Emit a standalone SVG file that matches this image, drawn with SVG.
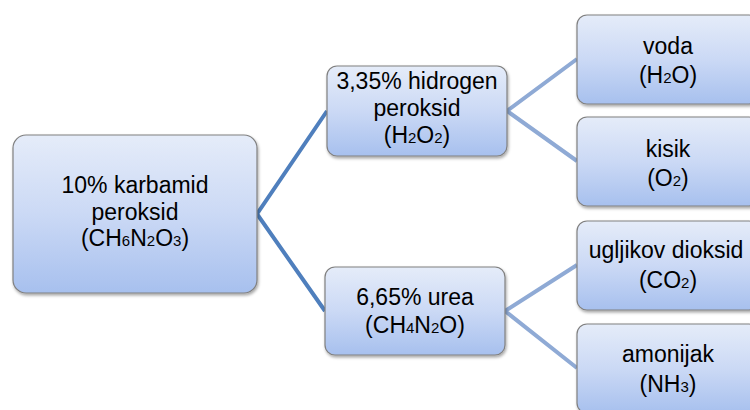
<svg xmlns="http://www.w3.org/2000/svg" width="750" height="410" viewBox="0 0 750 410">
<defs>
<linearGradient id="g" x1="0" y1="0" x2="0" y2="1">
<stop offset="0" stop-color="#e5ecf9"/>
<stop offset="0.5" stop-color="#cbd9f5"/>
<stop offset="1" stop-color="#a7c0ee"/>
</linearGradient>
<filter id="sh" x="-10%" y="-10%" width="130%" height="130%">
<feDropShadow dx="1" dy="2" stdDeviation="1.5" flood-color="#000" flood-opacity="0.35"/>
</filter>
</defs>
<style>
.box{fill:url(#g);stroke:#808080;stroke-width:1.2;filter:url(#sh)}
text{font-family:"Liberation Sans",Arial,sans-serif;font-size:23px;fill:#000;text-anchor:middle}
.s{font-size:15px}
.c1{stroke:#4f7fbd;stroke-width:4;fill:none}
.c2{stroke:#8faad5;stroke-width:4;fill:none}
</style>
<rect width="750" height="410" fill="#fff"/>
<g id="connectors">
<polyline class="c1" points="327,111 257,214 325,311"/>
<polyline class="c2" points="577,59 507,111 577,161"/>
<polyline class="c2" points="577,265 505,311 577,368"/>
</g>
<g id="root">
<rect class="box" x="13" y="135" width="244" height="158" rx="13"/>
<text x="135" y="193">10% karbamid</text>
<text x="135" y="220">peroksid</text>
<text x="135" y="246">(CH<tspan class="s">6</tspan>N<tspan class="s">2</tspan>O<tspan class="s">3</tspan>)</text>
</g>
<g id="h2o2">
<rect class="box" x="327" y="66" width="180" height="90" rx="10"/>
<text x="417" y="89">3,35% hidrogen</text>
<text x="417" y="116">peroksid</text>
<text x="417" y="143">(H<tspan class="s">2</tspan>O<tspan class="s">2</tspan>)</text>
</g>
<g id="urea">
<rect class="box" x="325" y="267" width="180" height="88" rx="10"/>
<text x="415" y="305">6,65% urea</text>
<text x="415" y="333">(CH<tspan class="s">4</tspan>N<tspan class="s">2</tspan>O)</text>
</g>
<g id="voda">
<rect class="box" x="577" y="15" width="182" height="89" rx="10"/>
<text x="668" y="54">voda</text>
<text x="668" y="83">(H<tspan class="s">2</tspan>O)</text>
</g>
<g id="kisik">
<rect class="box" x="577" y="117" width="182" height="89" rx="10"/>
<text x="668" y="157">kisik</text>
<text x="668" y="186">(O<tspan class="s">2</tspan>)</text>
</g>
<g id="co2">
<rect class="box" x="577" y="221" width="182" height="89" rx="10"/>
<text x="666" y="258">ugljikov dioksid</text>
<text x="668" y="288">(CO<tspan class="s">2</tspan>)</text>
</g>
<g id="nh3">
<rect class="box" x="577" y="324" width="182" height="89" rx="10"/>
<text x="668" y="362">amonijak</text>
<text x="668" y="392">(NH<tspan class="s">3</tspan>)</text>
</g>
</svg>
